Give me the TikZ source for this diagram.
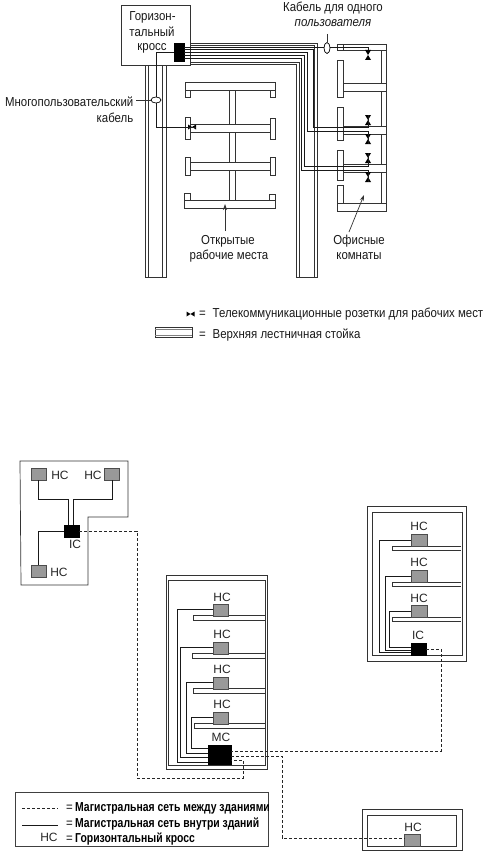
\documentclass[tikz,border=0pt]{standalone}
\usepackage{fontspec}
\setmainfont{Liberation Sans}
\newfontfamily\cond[FakeStretch=0.88]{Liberation Sans}
\newfontfamily\condb[FakeStretch=0.8]{Liberation Sans Bold}
\usetikzlibrary{arrows.meta,calc,shapes.geometric}
\tikzset{
  wire/.style={line width=1pt,black!90},
  thin line/.style={line width=0.7pt,black!80},
  rack/.style={line width=0.7pt,black!80,fill=white},
  dashline/.style={line width=0.7pt,black!85,dash pattern=on 3pt off 2pt},
  hcbox/.style={draw=black!70,line width=0.4pt,fill=black!40,inner sep=0,minimum width=15pt,minimum height=12pt},
  blackbox/.style={fill=black,draw=black,inner sep=0},
  lbl/.style={inner sep=0,font=\cond\fontsize{13}{14}\selectfont,text=black!90},
  lblb/.style={inner sep=0,font=\condb\fontsize{13}{14}\selectfont,text=black},
  hclbl/.style={inner sep=0,font=\fontsize{12}{13}\selectfont,text=black!85},
  cable ring/.style={draw=black,line width=0.7pt,fill=white,ellipse,inner sep=0},
}
\newcommand{\capbox}[4]{\draw[rack] (#1,#2) rectangle (#3,#4);}
\newcommand{\outv}[2]{\fill[black] (#1-3,#2-5)--(#1+3,#2-5)--(#1-3,#2+5)--(#1+3,#2+5)--cycle;}
\newcommand{\outh}[2]{\fill[black] (#1-4,#2-2.5)--(#1-4,#2+2.5)--(#1+4,#2-2.5)--(#1+4,#2+2.5)--cycle;}
\begin{document}
\begin{tikzpicture}[x=1pt,y=-1pt]
\useasboundingbox (0,0) rectangle (482,859);
\fill[white] (0,0) rectangle (482,859);

% --- upper plan: ladders
\draw[rack] (145,65) -- (145,277) -- (166,277) -- (166,65);
\draw[thin line] (148,65) -- (148,277);
\draw[thin line] (162,65) -- (162,277);
\draw[thin line] (190,43) -- (317,43) -- (317,277) -- (296,277) -- (296,64) -- (190,64);
\draw[thin line] (190,45) -- (314,45) -- (314,277);
\draw[thin line] (190,62) -- (299,62) -- (299,277);

% open workplaces
\draw[rack] (229,90) rectangle (235,200);
\capbox{185}{90}{190}{97}\capbox{270}{90}{275}{97}
\draw[rack] (185,82) rectangle (275,90);
\capbox{185}{117}{190}{139}\capbox{270}{118}{275}{139}
\draw[rack] (190,124) rectangle (270,132);
\capbox{185}{157}{190}{175}\capbox{270}{157}{275}{175}
\draw[rack] (190,162) rectangle (270,170);
\capbox{184}{193}{190}{200}\capbox{269}{194}{275}{200}
\draw[rack] (184,200) rectangle (275,208);

% offices
\draw[thin line] (381,50) -- (381,203);
\draw[thin line] (386,44) -- (386,211);
\draw[rack] (337,44) -- (386,44) -- (386,50) -- (337,50) -- cycle;
\capbox{337}{44}{343}{50}
\capbox{337}{60}{343}{97}
\draw[rack] (343,83) rectangle (386,91);
\capbox{337}{107}{343}{140}
\draw[rack] (343,126) rectangle (386,134);
\capbox{337}{150}{343}{180}
\draw[rack] (343,164) rectangle (386,172);
\capbox{337}{185}{343}{203}
\draw[rack] (337,203) rectangle (386,211);

% cross box
\node[draw=black!80,line width=0.7pt,fill=white,minimum width=69pt,minimum height=60pt,inner sep=0] (hx) at (155.5,35) {};
\node[blackbox,minimum width=10pt,minimum height=18pt] (blk) at (179,52) {};
\node[lbl] (t1) at (152.5,17) {Горизон-};
\node[lbl] (t2) at (152,32) {тальный};
\node[lbl] (t3) at (152,48) {кросс};

% outlets
\coordinate (o1) at (368,50);
\coordinate (o2) at (368,115);
\coordinate (o3) at (368,144);
\coordinate (o4) at (368,153);
\coordinate (o5) at (368,182);
\coordinate (o6) at (196,127);
\outv{368}{55}\outv{368}{120}\outv{368}{139}\outv{368}{158}\outv{368}{177}\outh{192}{127}

% cables
\draw[wire] (blk.east |- 0,47.5) -- (368,47.5) -- (o1);
\draw[wire] (blk.east |- 0,50) -- (313,50) -- (313,127) -- (368,127) -- (o2);
\draw[wire] (blk.east |- 0,53) -- (307,53) -- (307,131) -- (368,131) -- (o3);
\draw[wire] (blk.east |- 0,56) -- (304,56) -- (304,166) -- (368,166) -- (o4);
\draw[wire] (blk.east |- 0,59) -- (301,59) -- (301,170) -- (368,170) -- (o5);
\draw[wire] (blk.west |- 0,52.5) -- (156,52.5) -- (156,127) -- (o6);

% rings and leaders
\node[cable ring,minimum width=10pt,minimum height=6pt] (r1) at (156,100) {};
\node[cable ring,minimum width=6pt,minimum height=11pt] (r2) at (327,48) {};
\node[lbl,anchor=east] (t4) at (133.5,102) {Многопользовательский};
\node[lbl,anchor=east] (t5) at (133.5,118) {кабель};
\node[lbl] (t6) at (333,8) {Кабель для одного};
\node[lbl,font=\cond\itshape\fontsize{13}{14}\selectfont] (t7) at (333,23) {пользователя};
\draw[thin line] (136,100) -- (r1.west);
\draw[thin line] (327,34) -- (r2.north);

% labels with arrows
\node[lbl] (t8) at (228,241) {Открытые};
\node[lbl] (t9) at (229,256) {рабочие места};
\node[lbl] (t10) at (359,241) {Офисные};
\node[lbl] (t11) at (359,256) {комнаты};
\draw[thin line,-{Stealth[length=6pt,width=4pt]}] (225,231) -- (225,204);
\draw[thin line,-{Stealth[length=6pt,width=4pt]}] (349,232) -- (364,195);

% upper legend
\outh{190.5}{314}
\node[lbl,anchor=west] (t12) at (199,314) {=};
\node[lbl,anchor=west] (t13) at (212.5,314) {Телекоммуникационные розетки для рабочих мест};
\draw[rack] (155,327) rectangle (192,337);
\draw[thin line,black!50] (155,329) -- (192,329);
\draw[thin line,black!50] (155,335) -- (192,335);
\node[lbl,anchor=west] (t14) at (199,335) {=};
\node[lbl,anchor=west] (t15) at (212.5,335) {Верхняя лестничная стойка};

% --- building A
\draw[thin line] (20,461) -- (128,461) -- (128,517) -- (88,517) -- (88,585) -- (21,585) -- cycle;
\node[hcbox] (a1) at (38.5,474) {};
\node[hcbox] (a2) at (112,474) {};
\node[hcbox] (a3) at (38.5,571) {};
\node[blackbox,minimum width=15pt,minimum height=12pt] (aic) at (71.5,531) {};
\node[hclbl] (la1) at (60,475) {HC};
\node[hclbl] (la2) at (93,475) {HC};
\node[hclbl] (la3) at (59,572) {HC};
\node[hclbl] (la4) at (75,544) {IC};
\draw[wire] (a1.south) |- (68,499) -- (68,525);
\draw[wire] (a2.south) |- (73,499) -- (73,525);
\draw[wire] (aic.west) -| (a3.north);

% --- building B
\draw[thin line] (166,575) rectangle (267,769);
\draw[thin line] (168,580) rectangle (265,765);
\foreach \n/\y/\xl/\xr in {1/615/193/265,2/653/192/265,3/688/193/265,4/723/194/265}{
  \draw[thin line] (\xr,\y) -- (\xl,\y) -- (\xl,\y+5) -- (\xr,\y+5);
  \node[hcbox,anchor=south west] (b\n) at (213,\y+1) {};
}
\node[hclbl] (lb1) at (222,597) {HC};
\node[hclbl] (lb2) at (222,634) {HC};
\node[hclbl] (lb3) at (222,669) {HC};
\node[hclbl] (lb4) at (222,704) {HC};
\node[hclbl] (lb5) at (221,737) {MC};
\node[blackbox,minimum width=23pt,minimum height=19pt] (mc) at (219.5,754.5) {};
\draw[wire] (b4.west) -| (191,748) -- (mc.west |- 0,748);
\draw[wire] (b3.west) -| (186,753) -- (mc.west |- 0,753);
\draw[wire] (b2.west) -| (180,757) -- (mc.west |- 0,757);
\draw[wire] (b1.west) -| (177,762) -- (mc.west |- 0,762);

% --- building C
\draw[thin line] (367,506) rectangle (466,661);
\draw[thin line] (372,512) -- (462,512) -- (462,655) -- (372,655) -- cycle;
\foreach \n/\y in {1/546,2/582,3/617}{
  \draw[thin line] (461,\y) -- (392,\y) -- (392,\y+4) -- (461,\y+4);
  \node[hcbox,minimum width=16pt,anchor=south west] (c\n) at (411,\y+0.5) {};
}
\node[hclbl] (lc1) at (419,526) {HC};
\node[hclbl] (lc2) at (419,562) {HC};
\node[hclbl] (lc3) at (419,598) {HC};
\node[hclbl] (lc4) at (418,635) {IC};
\node[blackbox,minimum width=15pt,minimum height=12pt] (cic) at (418.5,649) {};
\draw[wire] (c1.west) -| (379,652.5) -- (cic.west |- 0,652.5);
\draw[wire] (c2.west) -| (385,650) -- (cic.west |- 0,650);
\draw[wire] (c3.west) -| (389,647) -- (cic.west |- 0,647);

% --- building D
\draw[thin line] (362,809) rectangle (462,850);
\draw[thin line] (367,815) rectangle (456,846);
\node[hcbox,minimum width=16pt] (d1) at (412.5,840) {};
\node[hclbl] (ld1) at (413,827) {HC};

% --- inter-building backbone
\draw[dashline] (aic.east) -- (137,531) -- (137,778) -- (243,778) -- (243,760) -- (mc.east |- 0,760);
\draw[dashline] (cic.east) -- (441,649) -- (441,751) -- (mc.east |- 0,751);
\draw[dashline] (mc.east |- 0,756) -- (282,756) -- (282,838) -- (d1.west |- 0,838);

% --- lower legend
\node[draw=black!75,line width=0.7pt,minimum width=253pt,minimum height=54pt,inner sep=0] (leg) at (141.5,819) {};
\coordinate (k1a) at (22,808);\coordinate (k1b) at (58,808);
\coordinate (k2a) at (22,825);\coordinate (k2b) at (58,825);
\draw[dashline] (k1a) -- (k1b);
\draw[wire] (k2a) -- (k2b);
\node[hclbl] (l1) at (49,837) {HC};
\node[lbl,anchor=west] (e1) at (66,808) {=};
\node[lbl,anchor=west] (e2) at (66,824) {=};
\node[lbl,anchor=west] (e3) at (66,839) {=};
\node[lblb,anchor=west] (m1) at (75,808) {Магистральная сеть между зданиями};
\node[lblb,anchor=west] (m2) at (75,824) {Магистральная сеть внутри зданий};
\node[lblb,anchor=west] (m3) at (75,839) {Горизонтальный кросс};
\end{tikzpicture}
\end{document}
